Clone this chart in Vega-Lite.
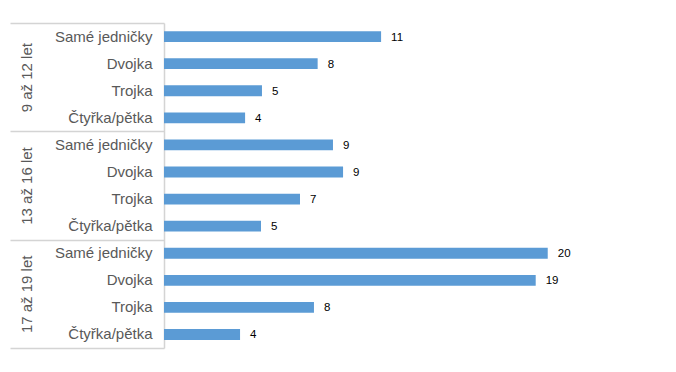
{
  "$schema": "https://vega.github.io/schema/vega-lite/v6.json",
  "width": 485,
  "height": 325,
  "padding": {"left": 9, "top": 22, "right": 10, "bottom": 10},
  "background": "white",
  "config": {"view": {"stroke": null}, "axis": {"grid": false}},
  "layer": [
    {
      "data": {
        "values": [
          {"row": "9 až 12 let|Samé jedničky", "value": 11.19, "label": "11"},
          {"row": "9 až 12 let|Dvojka", "value": 7.92, "label": "8"},
          {"row": "9 až 12 let|Trojka", "value": 5.05, "label": "5"},
          {"row": "9 až 12 let|Čtyřka/pětka", "value": 4.18, "label": "4"},
          {"row": "13 až 16 let|Samé jedničky", "value": 8.71, "label": "9"},
          {"row": "13 až 16 let|Dvojka", "value": 9.23, "label": "9"},
          {"row": "13 až 16 let|Trojka", "value": 7.01, "label": "7"},
          {"row": "13 až 16 let|Čtyřka/pětka", "value": 5.0, "label": "5"},
          {"row": "17 až 19 let|Samé jedničky", "value": 19.78, "label": "20"},
          {"row": "17 až 19 let|Dvojka", "value": 19.16, "label": "19"},
          {"row": "17 až 19 let|Trojka", "value": 7.73, "label": "8"},
          {"row": "17 až 19 let|Čtyřka/pětka", "value": 3.92, "label": "4"}
        ]
      },
      "encoding": {
        "y": {
          "field": "row",
          "type": "nominal",
          "sort": null,
          "scale": {"paddingInner": 0.6, "paddingOuter": 0.3},
          "axis": {
            "orient": "left",
            "title": null,
            "ticks": false,
            "domain": false,
            "labelPadding": 12,
            "labelExpr": "split(datum.label, '|')[1]",
            "labelFont": "Liberation Sans",
            "labelFontSize": 15,
            "labelColor": "#595959",
            "labelLimit": 0
          }
        }
      },
      "layer": [
        {
          "mark": {"type": "bar", "color": "#5b9bd5"},
          "encoding": {
            "x": {"field": "value", "type": "quantitative", "scale": {"domain": [0, 25]}, "axis": null}
          }
        },
        {
          "mark": {"type": "text", "align": "left", "baseline": "middle", "dx": 10, "dy": 1, "font": "Liberation Sans", "fontSize": 11.5, "color": "#000000"},
          "encoding": {
            "x": {"field": "value", "type": "quantitative", "scale": {"domain": [0, 25]}, "axis": null},
            "text": {"field": "label"}
          }
        }
      ]
    },
    {
      "data": {
        "values": [
          {"group": "9 až 12 let"},
          {"group": "13 až 16 let"},
          {"group": "17 až 19 let"}
        ]
      },
      "mark": {"type": "bar", "opacity": 0},
      "encoding": {
        "y": {
          "field": "group",
          "type": "nominal",
          "sort": null,
          "scale": {"type": "band", "paddingInner": 0, "paddingOuter": 0},
          "axis": {
            "orient": "left",
            "title": null,
            "tickBand": "extent",
            "tickSize": 154,
            "tickWidth": 1.5,
            "tickColor": "#d4d4d4",
            "domainColor": "#d4d4d4",
            "domainWidth": 1.5,
            "labelAngle": -90,
            "labelAlign": "center",
            "labelBaseline": "bottom",
            "labelPadding": -24,
            "labelFont": "Liberation Sans",
            "labelFontSize": 15,
            "labelColor": "#595959",
            "labelLimit": 0
          }
        }
      }
    }
  ],
  "resolve": {"scale": {"y": "independent"}, "axis": {"y": "independent"}}
}
